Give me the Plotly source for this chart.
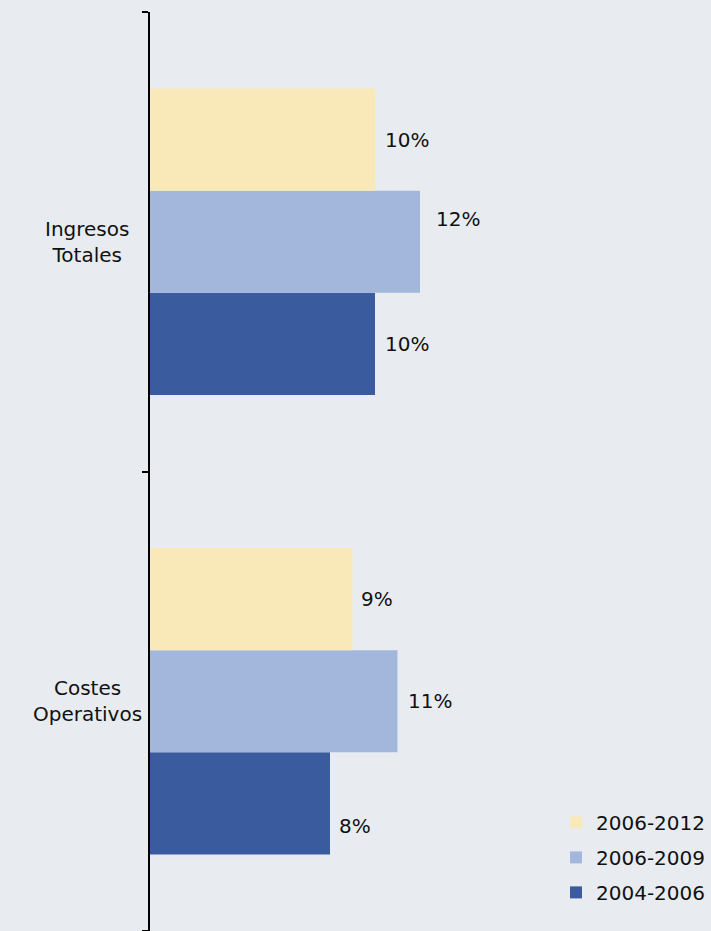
import plotly.graph_objects as go

categories = ["Costes<br>Operativos", "Ingresos<br>Totales"]
series_names = ["2004-2006", "2006-2009", "2006-2012"]
values_2004_2006 = [8, 10]
values_2006_2009 = [11, 12]
values_2006_2012 = [9, 10]
series_values = [values_2004_2006, values_2006_2009, values_2006_2012]
colors = ["#3A5B9E", "#A3B7DD", "#FAE9B8"]

# label nudges (pixels) per series, per category
label_dx = [[7, 8], [8, 14], [6, 8]]
label_dy = [[-23, 0], [0, 23], [0, 0]]

BG = "#E8ECF0"
FONT = "DejaVu Sans"
bar_px = 460 * (2 / 3) / 3

fig = go.Figure()
for i, (name, vals, col) in enumerate(zip(series_names, series_values, colors)):
    fig.add_trace(go.Bar(
        y=categories, x=vals, name=name, orientation="h",
        marker=dict(color=col, line=dict(width=0)),
        legendgroup=name, legendrank=1000 - i,
    ))
    for j, (cat, v) in enumerate(zip(categories, vals)):
        fig.add_annotation(
            x=v, y=cat, xref="x", yref="y", text=f"{v}%", showarrow=False,
            xanchor="left", yanchor="middle",
            xshift=label_dx[i][j], yshift=(i - 1) * bar_px + label_dy[i][j],
            font=dict(family=FONT, size=20, color="#111111"),
        )

for cat in categories:
    fig.add_annotation(
        x=0, y=cat, xref="paper", yref="y", text=cat, showarrow=False,
        xanchor="center", yanchor="middle", align="center", xshift=-63,
        font=dict(family=FONT, size=20, color="#111111"),
    )

fig.update_layout(
    width=711, height=931,
    margin=dict(l=150, r=0, t=12, b=0),
    paper_bgcolor=BG, plot_bgcolor=BG,
    barmode="group", bargap=1 / 3, bargroupgap=0,
    showlegend=True,
    legend=dict(
        traceorder="grouped", tracegroupgap=6,
        x=1, xanchor="right", y=0.1394, yanchor="top",
        bgcolor="rgba(0,0,0,0)",
        font=dict(family=FONT, size=20, color="#111111"),
        itemwidth=30,
    ),
    xaxis=dict(range=[0, 561 / 22.5], visible=False, fixedrange=True),
    yaxis=dict(
        type="category", categoryorder="array", categoryarray=categories,
        range=[-0.5, 1.5], showticklabels=False, fixedrange=True,
        showline=True, linecolor="#000000", linewidth=2,
        ticks="outside", ticklen=6, tickwidth=2, tickcolor="#000000",
        tickson="boundaries", showgrid=False, zeroline=False,
    ),
)

fig.write_html(
    "out.html",
    config={"displayModeBar": False},
    post_script="document.body.style.margin='0';document.body.style.background='%s';" % BG,
)
